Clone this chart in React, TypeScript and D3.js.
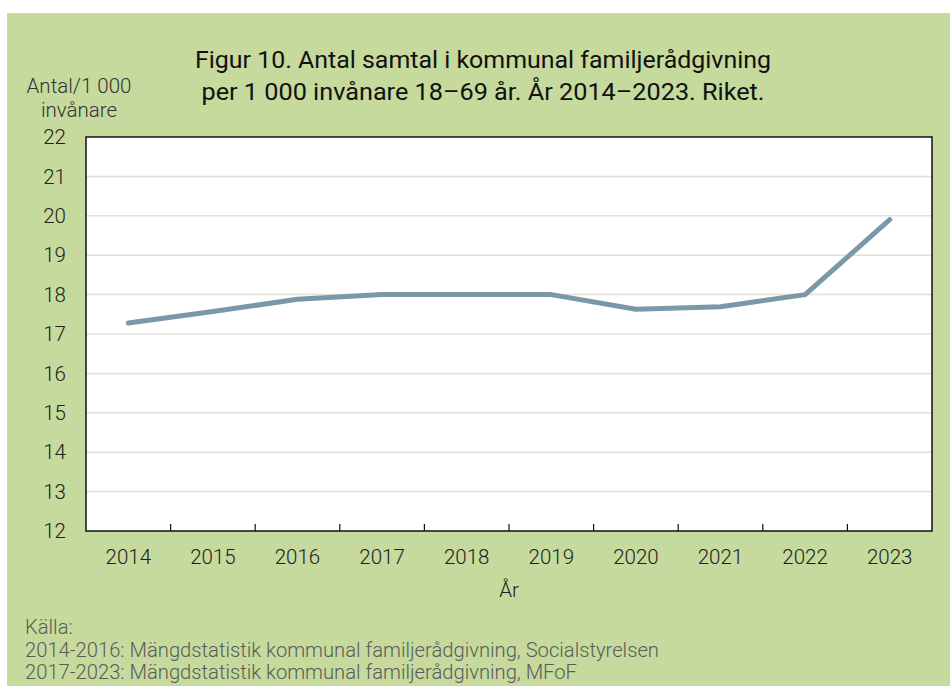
import React from "react";
import * as d3 from "d3";

const years = ["2014", "2015", "2016", "2017", "2018", "2019", "2020", "2021", "2022", "2023"];
const values = [17.28, 17.57, 17.88, 18.0, 18.0, 18.0, 17.63, 17.69, 18.0, 19.9];
const yTicks = [12, 13, 14, 15, 16, 17, 18, 19, 20, 21, 22];
const titleLines = [
  "Figur 10. Antal samtal i kommunal familjerådgivning",
  "per 1 000 invånare 18–69 år. År 2014–2023. Riket.",
];
const yLabelLines = ["Antal/1 000", "invånare"];
const xLabel = "År";
const sourceLines = [
  "Källa:",
  "2014-2016: Mängdstatistik kommunal familjerådgivning, Socialstyrelsen",
  "2017-2023: Mängdstatistik kommunal familjerådgivning, MFoF",
];

export default function App() {
  const W = 950, H = 686;
  const left = 86, right = 932, top = 137, bottom = 531;
  const x = d3.scaleBand<string>().domain(years).range([left, right]);
  const y = d3.scaleLinear().domain([12, 22]).range([bottom, top]);
  const line = d3
    .line<number>()
    .x((_, i) => (x(years[i]) as number) + x.bandwidth() / 2)
    .y((d) => y(d));
  const font = "Roboto, 'Noto Sans', sans-serif";
  const boundaries = years.slice(1).map((yr) => x(yr) as number);

  return (
    <svg width={W} height={H} style={{ position: "absolute", left: 0, top: 0 }} fontFamily={font}>
      <rect x={7} y={13} width={W - 7} height={H - 13} fill="#c5da9c" />
      {titleLines.map((t, i) => (
        <text
          key={i}
          x={483}
          y={68 + i * 32}
          textAnchor="middle"
          fontSize={24}
          fill="#111"
          textLength={i === 0 ? 576 : 563}
          lengthAdjust="spacingAndGlyphs"
        >
          {t}
        </text>
      ))}
      {yLabelLines.map((t, i) => (
        <text key={i} x={79} y={93 + i * 24} textAnchor="middle" fontSize={20.5} fontWeight={300} fill="#333">
          {t}
        </text>
      ))}
      <rect x={left} y={top} width={right - left} height={bottom - top} fill="#fff" />
      {yTicks.slice(1, -1).map((v) => (
        <line key={v} x1={left} x2={right} y1={y(v)} y2={y(v)} stroke="#e2dfd7" strokeWidth={1.5} />
      ))}
      <rect x={left} y={top} width={right - left} height={bottom - top} fill="none" stroke="#111" strokeWidth={1.5} />
      {boundaries.map((bx, i) => (
        <line key={i} x1={bx} x2={bx} y1={bottom} y2={bottom - 7} stroke="#111" strokeWidth={1.2} />
      ))}
      {yTicks.map((v) => (
        <text key={v} x={66} y={y(v)} dy="0.35em" textAnchor="end" fontSize={20.5} fontWeight={300} fill="#222">
          {v}
        </text>
      ))}
      {years.map((yr) => (
        <text
          key={yr}
          x={(x(yr) as number) + x.bandwidth() / 2}
          y={557}
          dy="0.35em"
          textAnchor="middle"
          fontSize={20.5}
          fontWeight={300}
          fill="#222"
        >
          {yr}
        </text>
      ))}
      <text x={509} y={590} dy="0.35em" textAnchor="middle" fontSize={20.5} fontWeight={300} fill="#222">
        {xLabel}
      </text>
      <path
        d={line(values) || ""}
        fill="none"
        stroke="#7b98a8"
        strokeWidth={5}
        strokeLinecap="round"
        strokeLinejoin="round"
      />
      {sourceLines.map((t, i) => (
        <text key={i} x={25} y={634 + i * 22.5} fontSize={20.2} fontWeight={300} fill="#5a5a5a">
          {t}
        </text>
      ))}
    </svg>
  );
}
